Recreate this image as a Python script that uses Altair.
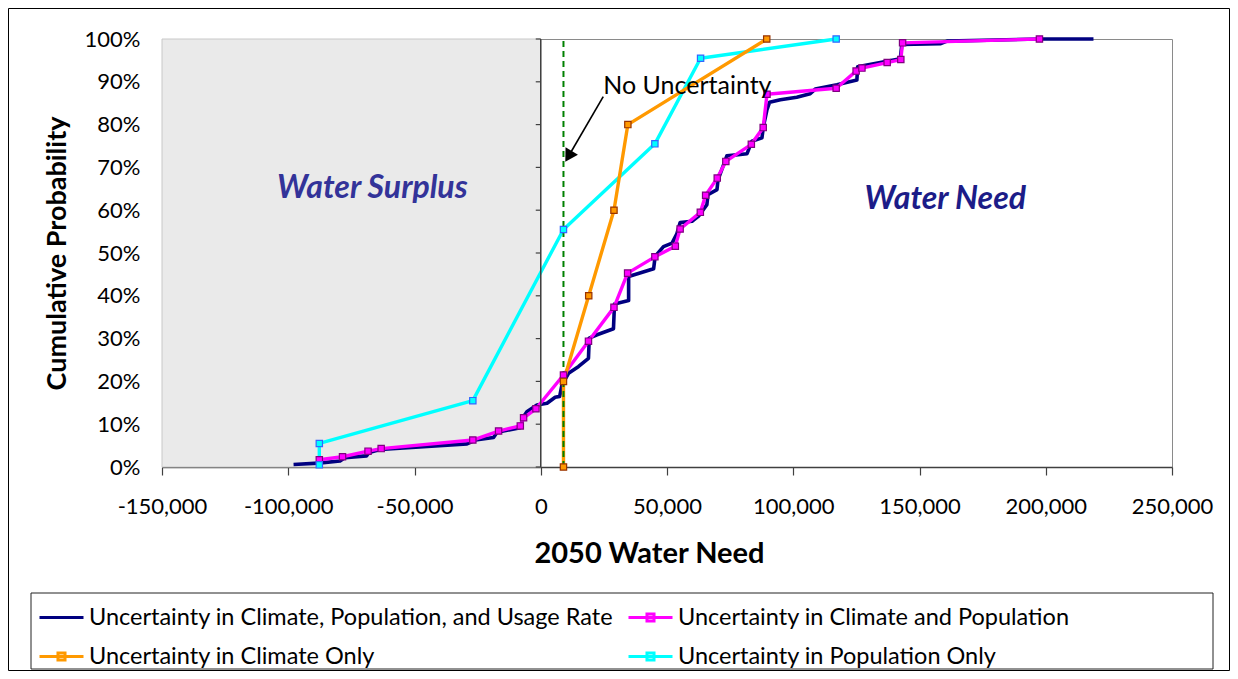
import altair as alt
import pandas as pd

# ---------------- data ----------------
SERIES = [
    "Uncertainty in Climate, Population, and Usage Rate",
    "Uncertainty in Climate and Population",
    "Uncertainty in Climate Only",
    "Uncertainty in Population Only",
]
LINE_COLORS = ["#000080", "#FF00FF", "#FF9900", "#00FFFF"]
EDGE_COLORS = ["#000080", "#800080", "#993300", "#3366FF"]

# Climate, Population, and Usage Rate (no markers)
cpu_x = [-97900, -88000, -79500, -77500, -69000, -68000, -63600, -29200, -25900,
         -18700, -17300, -8100, -6800, -5500, -1500, 2500, 5700, 7500, 8400, 11000,
         15000, 18900, 19200, 22300, 28800, 29200, 34800, 34800, 44700, 45300,
         48600, 52000, 53900, 55200, 59900, 62500, 65800, 66200, 69800, 70200,
         73700, 81700, 83600, 87600, 88200, 89600, 90600, 94900, 101400, 106700,
         108700, 117300, 125200, 125500, 142400, 143000, 158200, 160900, 197800,
         218900]
cpu_y = [0.006, 0.009, 0.014, 0.022, 0.026, 0.034, 0.041, 0.054, 0.063,
         0.069, 0.081, 0.092, 0.118, 0.129, 0.145, 0.149, 0.163, 0.165, 0.192, 0.219,
         0.235, 0.254, 0.301, 0.309, 0.323, 0.381, 0.389, 0.445, 0.463, 0.492,
         0.515, 0.523, 0.545, 0.571, 0.574, 0.586, 0.613, 0.636, 0.648, 0.671,
         0.727, 0.732, 0.761, 0.769, 0.796, 0.835, 0.852, 0.858, 0.864, 0.872,
         0.883, 0.893, 0.904, 0.935, 0.954, 0.987, 0.989, 0.995, 1.0,
         1.0]

# Climate and Population
cp_x = [-87700, -78500, -68400, -63200, -26900, -16700, -8100, -6800, -1900, 9000,
        18900, 29000, 34400, 45200, 53300, 55200, 63200, 65300, 69900, 73300,
        83400, 88100, 89600, 117000, 124900, 127200, 137200, 142600, 143300, 197500]
cp_y = [0.017, 0.024, 0.037, 0.043, 0.063, 0.084, 0.096, 0.115, 0.136, 0.215,
        0.294, 0.373, 0.453, 0.491, 0.516, 0.556, 0.595, 0.635, 0.675, 0.714,
        0.754, 0.793, 0.871, 0.885, 0.925, 0.932, 0.945, 0.952, 0.991, 1.0]

# Climate Only
c_x = [9000, 9000, 19000, 29000, 34500, 89500]
c_y = [0.0, 0.2, 0.4, 0.6, 0.8, 1.0]

# Population Only
p_x = [-87700, -87700, -26900, 9000, 45200, 63300, 117000]
p_y = [0.005, 0.055, 0.155, 0.555, 0.755, 0.955, 1.0]

X_TICKS = [-150000, -100000, -50000, 0, 50000, 100000, 150000, 200000, 250000]
Y_TICKS = [0.0, 0.1, 0.2, 0.3, 0.4, 0.5, 0.6, 0.7, 0.8, 0.9, 1.0]
X_DOMAIN = [-150000, 250000]
NO_UNCERTAINTY_X = [9000]
SURPLUS_RANGE = [-150000, 0]

surplus_label = ["Water Surplus"]
surplus_lx = [-66700]
surplus_ly = [0.653]
need_label = ["Water Need"]
need_lx = [160200]
need_ly = [0.627]

note_text = ["No Uncertainty"]
note_x = [24750]
note_y = [0.891]
arrow_x = [24750]
arrow_y = [0.8655]
arrow_x2 = [11000]
arrow_y2 = [0.726]

LEGEND_PATHS = ["M-1,0H1",
                "M-1,0H1M-0.16,-0.16H0.16V0.16H-0.16Z",
                "M-1,0H1M-0.16,-0.16H0.16V0.16H-0.16Z",
                "M-1,0H1M-0.16,-0.16H0.16V0.16H-0.16Z"]
LEGEND_HIDDEN_X = [-1000000] * 4   # outside the x domain, clipped away
LEGEND_HIDDEN_Y = [0.5] * 4

W, H = 1010, 428
FONT = "Lato"

# ---------------- encodings ----------------
def xenc(field="x"):
    return alt.X(f"{field}:Q",
                 scale=alt.Scale(domain=X_DOMAIN, nice=False, zero=False),
                 axis=alt.Axis(values=X_TICKS, title="2050 Water Need", grid=False,
                               labelExpr="replace(format(datum.value, ','), '\u2212', '-')",
                               domainColor="#404040", domainWidth=1.5,
                               tickColor="#404040", tickSize=8, tickWidth=1.2,
                               labelPadding=21, titlePadding=22, titleX=487,
                               titleFontSize=29,
                               labelFlush=False, labelOverlap=False))


def yenc(field="y"):
    return alt.Y(f"{field}:Q",
                 scale=alt.Scale(domain=[0, 1], nice=False, zero=False),
                 axis=alt.Axis(values=Y_TICKS, format=".0%", title="Cumulative Probability",
                               grid=False, domain=False, ticks=False, tickSize=0,
                               titleFontSize=27,
                               labelPadding=22, titlePadding=13, labelOverlap=False))


one = pd.DataFrame({"a": [0]})

# decorative frames
outer = alt.Chart(one).mark_rect(fillOpacity=0, stroke="black", strokeWidth=1).encode(
    x=alt.value(-153.5), x2=alt.value(W + 57.5), y=alt.value(-30.5), y2=alt.value(H + 203.5))
legend_box = alt.Chart(one).mark_rect(fillOpacity=0, stroke="#222222", strokeWidth=1).encode(
    x=alt.value(-131), x2=alt.value(W + 41), y=alt.value(H + 126), y2=alt.value(H + 202))

# shaded surplus region
surplus_df = pd.DataFrame({"x": [SURPLUS_RANGE[0]], "x2": [SURPLUS_RANGE[1]], "y": [0.0], "y2": [1.0]})
surplus = alt.Chart(surplus_df).mark_rect(fill="#eaeaea", stroke="#c8c8c8", strokeWidth=1).encode(
    x=xenc(), x2="x2:Q", y=yenc(), y2="y2:Q")

# y axis line at zero with outward ticks
zero_df = pd.DataFrame({"x": [0], "y": [0.0], "y2": [1.0]})
zero_axis = alt.Chart(zero_df).mark_rule(color="#404040", strokeWidth=1.5).encode(
    x=xenc(), y=yenc(), y2="y2:Q")
ytick_df = pd.DataFrame({"x": [-1980] * len(Y_TICKS), "x2": [0] * len(Y_TICKS), "y": Y_TICKS})
yticks = alt.Chart(ytick_df).mark_rule(color="#404040", strokeWidth=1.2).encode(
    x=xenc(), x2="x2:Q", y=yenc())


def line_layer(xs, ys, color, width=3.4):
    df = pd.DataFrame({"x": xs, "y": ys, "i": list(range(len(xs)))})
    return alt.Chart(df).mark_line(color=color, strokeWidth=width, strokeJoin="round").encode(
        x=xenc(), y=yenc(), order="i:Q")


def marker_layer(xs, ys, fill, edge):
    df = pd.DataFrame({"x": xs, "y": ys})
    return alt.Chart(df).mark_point(shape="square", filled=True, size=40, fill=fill,
                                    stroke=edge, strokeWidth=1.2, opacity=1).encode(
        x=xenc(), y=yenc())


def text_layer(xs, ys, texts, color, **kw):
    df = pd.DataFrame({"x": xs, "y": ys, "t": texts})
    return alt.Chart(df).mark_text(font=FONT, color=color, baseline="middle", **kw).encode(
        x=xenc(), y=yenc(), text="t:N")


l_cpu = line_layer(cpu_x, cpu_y, LINE_COLORS[0], 3.6)
l_cp = line_layer(cp_x, cp_y, LINE_COLORS[1])
l_p = line_layer(p_x, p_y, LINE_COLORS[3])
l_c = line_layer(c_x, c_y, LINE_COLORS[2])

nu_df = pd.DataFrame({"x": NO_UNCERTAINTY_X, "y": [0.0], "y2": [1.0]})
no_unc = alt.Chart(nu_df).mark_rule(color="#008000", strokeWidth=2, strokeDash=[6, 4]).encode(
    x=xenc(), y=yenc(), y2="y2:Q")

m_cp = marker_layer(cp_x, cp_y, LINE_COLORS[1], EDGE_COLORS[1])
m_p = marker_layer(p_x, p_y, LINE_COLORS[3], EDGE_COLORS[3])
m_c = marker_layer(c_x, c_y, LINE_COLORS[2], EDGE_COLORS[2])

# annotation
note = text_layer(note_x, note_y, note_text, "black", fontSize=25, align="left")
arrow_df = pd.DataFrame({"x": arrow_x, "y": arrow_y, "x2": arrow_x2, "y2": arrow_y2})
arrow_line = alt.Chart(arrow_df).mark_rule(color="black", strokeWidth=1.6).encode(
    x=xenc(), y=yenc(), x2="x2:Q", y2="y2:Q")
head_df = pd.DataFrame({"x": arrow_x2, "y": arrow_y2})
arrow_head = alt.Chart(head_df).mark_point(shape="triangle-up", angle=211, filled=True,
                                           size=210, color="black", opacity=1).encode(
    x=xenc(), y=yenc())

t_surplus = text_layer(surplus_lx, surplus_ly, surplus_label, "#333399", fontSize=32,
                       fontWeight="bold", fontStyle="italic", align="center")
t_need = text_layer(need_lx, need_ly, need_label, "#1c1c88", fontSize=32,
                    fontWeight="bold", fontStyle="italic", align="center")

# legend (its points lie outside the domain and are clipped away)
LEG = dict(title=None, orient="none", legendX=-124, legendY=555, columns=2,
           direction="horizontal",
           columnPadding=8, rowPadding=4, padding=0, labelFont=FONT, labelFontSize=23.5,
           labelColor="black", labelLimit=800, labelOffset=4, symbolSize=1936,
           symbolStrokeWidth=3, symbolOpacity=1, zindex=2)
leg_df = pd.DataFrame({"series": SERIES, "x": LEGEND_HIDDEN_X, "y": LEGEND_HIDDEN_Y})
legend_layer = alt.Chart(leg_df).mark_point(filled=False, opacity=1, clip=True).encode(
    x=xenc(), y=yenc(),
    color=alt.Color("series:N", scale=alt.Scale(domain=SERIES, range=LINE_COLORS),
                    legend=alt.Legend(**LEG)),
    shape=alt.Shape("series:N", scale=alt.Scale(domain=SERIES, range=LEGEND_PATHS),
                    legend=alt.Legend(**LEG)),
)

chart = alt.layer(
    outer, legend_box, surplus, l_cpu, l_cp, l_p, l_c, no_unc, m_cp, m_p, m_c,
    zero_axis, yticks, arrow_line, arrow_head, note, t_surplus, t_need, legend_layer
).properties(
    width=W, height=H,
    autosize=alt.AutoSizeParams(type="none"),
    padding={"left": 154, "top": 31, "right": 58, "bottom": 204},
    background="white",
).configure_view(
    stroke="#8a8a8a", strokeWidth=1
).configure_axis(
    labelFont=FONT, labelFontSize=22, labelColor="black",
    titleFont=FONT, titleFontWeight="bold", titleColor="black",
)

chart.save("out.html", embed_options={"renderer": "svg", "actions": False})
